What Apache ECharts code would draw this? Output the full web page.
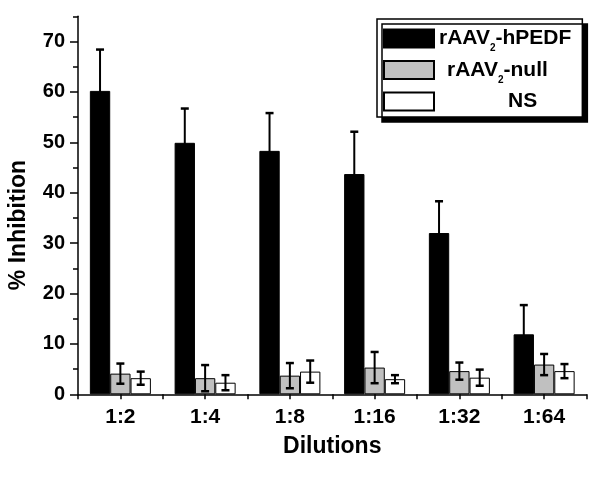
<!DOCTYPE html>
<html>
<head>
<meta charset="utf-8">
<script src="https://cdn.jsdelivr.net/npm/echarts@6/dist/echarts.min.js"></script>
<style>html,body{margin:0;padding:0;background:#fff}#c{width:600px;height:477px}</style>
</head>
<body>
<div id="c"></div>
<script>
const categories = ['1:2', '1:4', '1:8', '1:16', '1:32', '1:64'];
const seriesNames = ['rAAV₂-hPEDF', 'rAAV₂-null', 'NS'];
const hpedfMean = [60.2, 49.9, 48.3, 43.7, 32.0, 11.9];
const hpedfErr  = [8.2, 6.8, 7.5, 8.4, 6.3, 5.8];
const nullMean  = [4.1, 3.2, 3.7, 5.3, 4.6, 5.9];
const nullErr   = [2.0, 2.6, 2.5, 3.1, 1.7, 2.1];
const nsMean    = [3.2, 2.3, 4.5, 3.0, 3.3, 4.6];
const nsErr     = [1.3, 1.5, 2.2, 0.8, 1.6, 1.4];
const yTickLabels = [0, 10, 20, 30, 40, 50, 60, 70];

const FONT = '"Liberation Sans", Arial, sans-serif';
const BAR_FRAC = 0.24;
const colors = ['#000000', '#c0c0c0', '#ffffff'];

function errSeries(idx, means, errs) {
  return {
    type: 'custom',
    name: 'err' + idx,
    xAxisIndex: 0, yAxisIndex: 0,
    z: 5,
    silent: true,
    data: means.map((m, i) => [i, m - errs[i], m + errs[i]]),
    encode: { x: 0, y: [1, 2] },
    renderItem: function (params, api) {
      const c = api.value(0);
      const lo = api.coord([c, api.value(1)]);
      const hi = api.coord([c, api.value(2)]);
      const band = api.size([1, 0])[0];
      const x = lo[0] + (idx - 1) * band * BAR_FRAC;
      const cap = 4;
      return {
        type: 'group',
        children: [
          { type: 'line', shape: { x1: x, y1: lo[1], x2: x, y2: hi[1] }, style: { stroke: '#000', lineWidth: 2 } },
          { type: 'line', shape: { x1: x - cap, y1: hi[1], x2: x + cap, y2: hi[1] }, style: { stroke: '#000', lineWidth: 2.5 } },
          { type: 'line', shape: { x1: x - cap, y1: lo[1], x2: x + cap, y2: lo[1] }, style: { stroke: '#000', lineWidth: 2.5 } }
        ]
      };
    }
  };
}

const chart = echarts.init(document.getElementById('c'), null, { renderer: 'canvas' });
const yMax = 75;
chart.setOption({
  animation: false,
  backgroundColor: '#fff',
  grid: { left: 78, right: 13.5, top: 16.3, bottom: 82.7, containLabel: false },
  legend: {
    data: seriesNames,
    orient: 'vertical',
    left: 377, top: 19,
    padding: [9, 11, 5, 6],
    itemGap: 6,
    itemWidth: 50, itemHeight: 18,
    icon: 'rect',
    backgroundColor: '#fff',
    borderColor: '#000', borderWidth: 1.5, borderRadius: 0,
    shadowColor: '#000', shadowBlur: 0, shadowOffsetX: 5, shadowOffsetY: 5,
    selectedMode: false,
    formatter: function (name) {
      if (name === 'NS') return '{m3|NS}';
      const parts = name.split('₂');
      const first = name.indexOf('hPEDF') >= 0 ? 'm' : 'm2';
      return '{' + first + '|' + parts[0] + '}{s|2}{m|' + parts[1] + '}';
    },
    textStyle: {
      fontFamily: FONT, fontWeight: 'bold', fontSize: 21, color: '#000',
      rich: {
        m:  { fontFamily: FONT, fontWeight: 'bold', fontSize: 21, color: '#000', lineHeight: 30 },
        m2: { fontFamily: FONT, fontWeight: 'bold', fontSize: 21, color: '#000', lineHeight: 30, padding: [0, 0, 0, 8] },
        m3: { fontFamily: FONT, fontWeight: 'bold', fontSize: 21, color: '#000', lineHeight: 30, padding: [0, 0, 0, 69] },
        s:  { fontFamily: FONT, fontWeight: 'bold', fontSize: 10, color: '#000', lineHeight: 8, verticalAlign: 'bottom' }
      }
    }
  },
  xAxis: [
    {
      type: 'category', data: categories, boundaryGap: true,
      axisLine: { show: true, lineStyle: { color: '#000', width: 1.5 } },
      axisTick: { show: true, alignWithLabel: true, length: 5, lineStyle: { color: '#000', width: 1.5 } },
      axisLabel: { color: '#000', fontFamily: FONT, fontWeight: 'bold', fontSize: 21, margin: 12 },
      name: 'Dilutions', nameLocation: 'middle', nameGap: 41,
      nameTextStyle: { color: '#000', fontFamily: FONT, fontWeight: 'bold', fontSize: 23 },
      splitLine: { show: false }
    },
    {
      type: 'category', data: categories, boundaryGap: true, position: 'bottom',
      axisLine: { show: false },
      axisTick: { show: true, alignWithLabel: false, length: 5, lineStyle: { color: '#000', width: 1.5 } },
      axisLabel: { show: false },
      splitLine: { show: false }
    }
  ],
  yAxis: [
    {
      type: 'value', min: 0, max: yMax, interval: 5,
      axisLine: { show: true, lineStyle: { color: '#000', width: 1.5 } },
      axisTick: { show: true, length: 5, lineStyle: { color: '#000', width: 1.5 } },
      axisLabel: { show: false },
      splitLine: { show: false }
    },
    {
      type: 'value', min: 0, max: yMax, interval: 10, position: 'left',
      axisLine: { show: false },
      axisTick: { show: true, length: 8, customValues: yTickLabels, lineStyle: { color: '#000', width: 1.5 } },
      axisLabel: { show: true, customValues: yTickLabels, color: '#000', fontFamily: FONT, fontWeight: 'bold', fontSize: 20, margin: 13 },
      splitLine: { show: false }
    }
  ],
  graphic: [
    {
      type: 'text', x: 19, y: 225, rotation: Math.PI / 2,
      style: { text: '% Inhibition', fill: '#000', fontFamily: FONT, fontWeight: 'bold', fontSize: 23, align: 'center', verticalAlign: 'middle' }
    }
  ],
  series: [
    { type: 'bar', name: seriesNames[0], data: hpedfMean, xAxisIndex: 0, yAxisIndex: 0, barWidth: (BAR_FRAC * 100) + '%', barGap: '0%',
      itemStyle: { color: colors[0], borderColor: '#000', borderWidth: 1 } },
    { type: 'bar', name: seriesNames[1], data: nullMean, xAxisIndex: 0, yAxisIndex: 0, barWidth: (BAR_FRAC * 100) + '%', barGap: '0%',
      itemStyle: { color: colors[1], borderColor: '#000', borderWidth: 1 } },
    { type: 'bar', name: seriesNames[2], data: nsMean, xAxisIndex: 0, yAxisIndex: 0, barWidth: (BAR_FRAC * 100) + '%', barGap: '0%',
      itemStyle: { color: colors[2], borderColor: '#000', borderWidth: 1 } },
    errSeries(0, hpedfMean, hpedfErr),
    errSeries(1, nullMean, nullErr),
    errSeries(2, nsMean, nsErr)
  ]
});
</script>
</body>
</html>
